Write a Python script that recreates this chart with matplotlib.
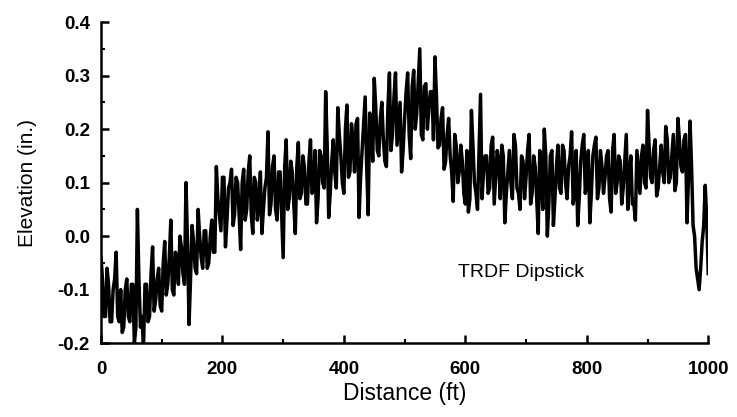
import matplotlib.pyplot as plt
import numpy as np

# elevation (in.) at 0, 5, 10 ... 1000 ft
readings = [
    -0.04, -0.15, -0.06, -0.16, -0.10, -0.03, -0.16, -0.18, -0.10, -0.15,
    -0.09, -0.20, 0.05, -0.17, -0.21, -0.09, -0.15, -0.02, -0.12, -0.06,
    -0.14, -0.01, -0.09, 0.03, -0.11, -0.04, 0.00, -0.07, 0.10, -0.165,
    0.02, -0.06, 0.05, -0.04, 0.01, -0.06, 0.00, -0.03, 0.13, 0.04,
    0.11, -0.02, 0.09, 0.125, 0.04, 0.10, -0.025, 0.125, 0.05, 0.15,
    0.005, 0.10, 0.06, 0.005, 0.09, 0.195, 0.06, 0.15, 0.03, 0.12,
    -0.04, 0.18, 0.07, 0.12, 0.005, 0.175, 0.08, 0.13, 0.06, 0.18,
    0.09, 0.025, 0.16, 0.10, 0.27, 0.035, 0.14, 0.12, 0.24, 0.15,
    0.08, 0.245, 0.12, 0.18, 0.21, 0.035, 0.16, 0.26, 0.04, 0.20,
    0.295, 0.16, 0.22, 0.18, 0.13, 0.305, 0.19, 0.305, 0.21, 0.12,
    0.22, 0.305, 0.145, 0.31, 0.23, 0.35, 0.18, 0.285, 0.24, 0.27,
    0.335, 0.165, 0.22, 0.125, 0.19, 0.15, 0.065, 0.17, 0.12, 0.14,
    0.06, 0.045, 0.235, 0.10, 0.05, 0.265, 0.12, 0.15, 0.09, 0.185,
    0.11, 0.14, 0.17, 0.025, 0.12, 0.10, 0.19, 0.09, 0.05, 0.14,
    0.11, 0.19, 0.08, 0.13, 0.005, 0.12, 0.20, 0.00, 0.15, 0.02,
    0.13, 0.09, 0.17, 0.10, 0.13, 0.195, 0.08, 0.02, 0.14, 0.19,
    0.10, 0.025, 0.15, 0.185, 0.09, 0.13, 0.11, 0.16, 0.045, 0.19,
    0.10, 0.14, 0.09, 0.19, 0.11, 0.06, 0.03, 0.12, 0.15, 0.10,
    0.235, 0.11, 0.16, 0.075, 0.13, 0.12, 0.205, 0.10, 0.15, 0.085,
    0.22, 0.13, 0.18, 0.025, 0.215, 0.02, -0.06, -0.10, -0.01, 0.095,
    -0.07,
]

# in-between readings at 2.5, 7.5 ... 997.5 ft (top and bottom of the dense core)
mid_readings = [
    -0.08, -0.15, -0.09, -0.16, -0.08, -0.15, -0.10, -0.17, -0.08, -0.16,
    -0.09, -0.17, -0.08, -0.15, -0.09, -0.16, -0.07, -0.14, -0.08, -0.13,
    -0.05, -0.11, -0.04, -0.10, -0.03, -0.09, -0.02, -0.09, -0.01, -0.08,
    -0.01, -0.07, 0.00, -0.06, 0.01, -0.05, 0.03, -0.03, 0.07, 0.01,
    0.11, 0.03, 0.10, 0.02, 0.11, 0.04, 0.10, 0.03, 0.12, 0.04,
    0.11, 0.03, 0.12, 0.05, 0.11, 0.04, 0.13, 0.05, 0.12, 0.04,
    0.13, 0.05, 0.14, 0.06, 0.13, 0.07, 0.15, 0.06, 0.14, 0.08,
    0.16, 0.07, 0.15, 0.09, 0.17, 0.08, 0.18, 0.09, 0.19, 0.10,
    0.20, 0.11, 0.21, 0.12, 0.22, 0.11, 0.21, 0.13, 0.23, 0.14,
    0.24, 0.15, 0.25, 0.14, 0.24, 0.16, 0.26, 0.17, 0.25, 0.16,
    0.27, 0.19, 0.28, 0.20, 0.29, 0.19, 0.28, 0.20, 0.27, 0.18,
    0.26, 0.17, 0.24, 0.14, 0.22, 0.12, 0.19, 0.10, 0.17, 0.08,
    0.16, 0.07, 0.17, 0.08, 0.16, 0.07, 0.15, 0.08, 0.17, 0.06,
    0.16, 0.07, 0.15, 0.08, 0.16, 0.07, 0.17, 0.08, 0.15, 0.07,
    0.16, 0.06, 0.15, 0.07, 0.16, 0.05, 0.15, 0.06, 0.16, 0.07,
    0.17, 0.08, 0.16, 0.07, 0.15, 0.06, 0.16, 0.07, 0.17, 0.08,
    0.16, 0.08, 0.17, 0.07, 0.16, 0.08, 0.15, 0.07, 0.16, 0.08,
    0.15, 0.06, 0.14, 0.05, 0.15, 0.06, 0.16, 0.08, 0.17, 0.09,
    0.17, 0.10, 0.18, 0.09, 0.17, 0.10, 0.18, 0.11, 0.19, 0.10,
    0.18, 0.12, 0.19, 0.11, 0.13, 0.00, -0.08, -0.06, 0.02, 0.03,
]

distance = np.arange(0, 1000.1, 2.5)
elevation = np.empty(len(distance))
elevation[0::2] = readings
elevation[1::2] = mid_readings

plt.rcParams['font.family'] = ['Liberation Sans', 'DejaVu Sans']

fig = plt.figure(figsize=(7.37, 4.17), dpi=100)
ax = fig.add_axes([0.137, 0.177, 0.824, 0.77])

ax.plot(distance, elevation, color='black', linewidth=2.5)

ax.set_xlim(0, 1000)
ax.set_ylim(-0.2, 0.4)
ax.set_xticks([0, 200, 400, 600, 800, 1000])
ax.set_xticks(np.arange(100, 1000, 200), minor=True)
ax.set_yticks(np.arange(-0.2, 0.41, 0.1))
ax.set_yticks(np.arange(-0.15, 0.4, 0.1), minor=True)
ax.set_yticklabels(['-0.2', '-0.1', '0.0', '0.1', '0.2', '0.3', '0.4'])

ax.spines['top'].set_visible(False)
ax.spines['right'].set_visible(False)
ax.spines['left'].set_linewidth(1.8)
ax.spines['bottom'].set_linewidth(1.8)
ax.tick_params(which='major', direction='in', length=6, width=1.8,
               labelsize=13.5)
ax.tick_params(axis='x', which='major', pad=13)
ax.tick_params(axis='y', which='major', pad=8)
ax.tick_params(which='minor', direction='in', length=3, width=1.5)
for lab in ax.get_xticklabels() + ax.get_yticklabels():
    lab.set_fontweight('bold')

ax.set_xlabel('Distance (ft)', fontsize=16.5, labelpad=3)
ax.set_ylabel('Elevation (in.)', fontsize=15, labelpad=15)
ax.text(588, -0.067, 'TRDF Dipstick', fontsize=14, va='center')

plt.savefig('out.png', dpi=100)
